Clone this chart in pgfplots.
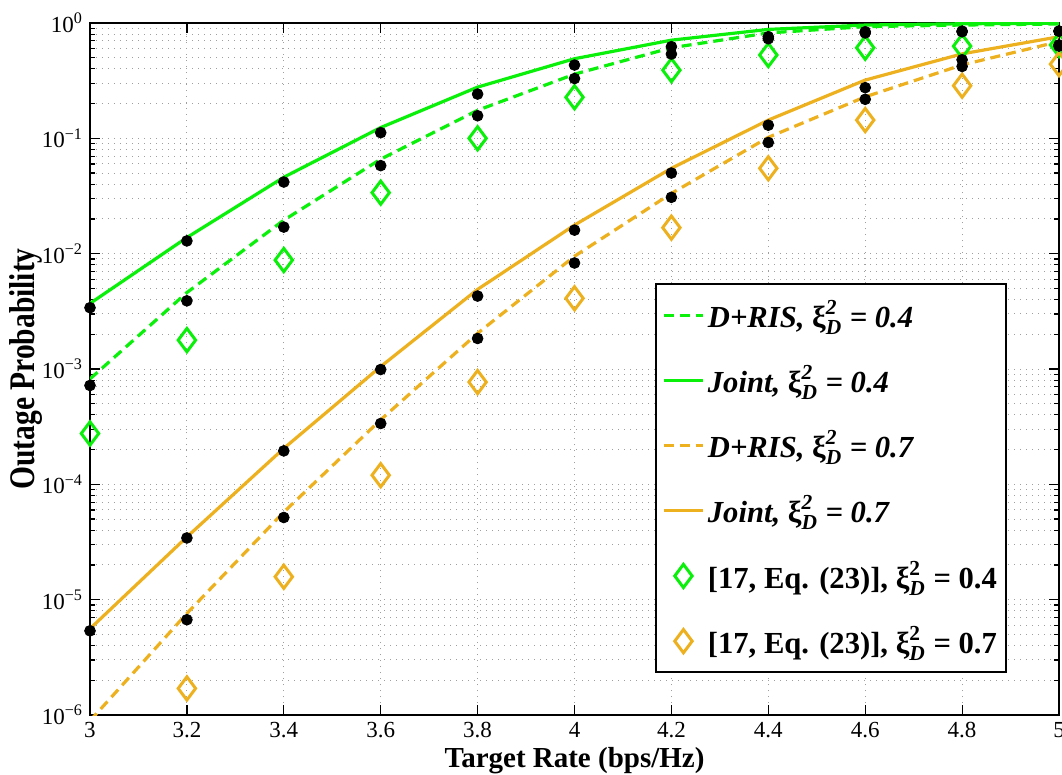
\documentclass[border=0pt]{standalone}
\usepackage{pgfplots}
\pgfplotsset{compat=1.18}
\usepackage{amsmath}
\usepackage{fontspec}
\setmainfont{Liberation Serif}

\definecolor{mgreen}{RGB}{10,240,10}
\definecolor{morange}{RGB}{237,177,32}

% xi_D^2 set in the text font
\newcommand{\xiD}{$\text{\upshape ξ}^{\text{2}}_{\text{\itshape D}}$}

\pgfplotsset{
    lineleg/.style={legend image code/.code={\draw[##1] (0cm,0cm) -- (0.7cm,0cm);}},
    diamleg/.style={legend image code/.code={\draw[##1] plot coordinates {(0.35cm,0cm)};}},
}

\begin{document}
\begin{tikzpicture}
\begin{axis}[
    scale only axis,
    width=484.5pt, height=346pt,
    ymode=log,
    xmin=3, xmax=5, ymin=1e-6, ymax=1,
    xtick={3,3.2,3.4,3.6,3.8,4,4.2,4.4,4.6,4.8,5},
    xticklabels={3,3.2,3.4,3.6,3.8,4,4.2,4.4,4.6,4.8,5},
    ytick={1e-6,1e-5,1e-4,1e-3,1e-2,1e-1,1},
    yticklabels={10\textsuperscript{−6},10\textsuperscript{−5},10\textsuperscript{−4},10\textsuperscript{−3},10\textsuperscript{−2},10\textsuperscript{−1},10\textsuperscript{0}},
    minor ytick={2e-6,3e-6,4e-6,5e-6,6e-6,7e-6,8e-6,9e-6,
                 2e-5,3e-5,4e-5,5e-5,6e-5,7e-5,8e-5,9e-5,
                 2e-4,3e-4,4e-4,5e-4,6e-4,7e-4,8e-4,9e-4,
                 2e-3,3e-3,4e-3,5e-3,6e-3,7e-3,8e-3,9e-3,
                 2e-2,3e-2,4e-2,5e-2,6e-2,7e-2,8e-2,9e-2,
                 0.2,0.3,0.4,0.5,0.6,0.7,0.8,0.9},
    tick label style={font=\fontsize{11.5}{13}\selectfont},
    xtick pos=both, ytick pos=both,
    tick align=inside,
    major tick length=5pt, minor tick length=2.5pt,
    tick style={black, line width=0.6pt},
    axis line style={line width=0.8pt},
    grid=both,
    major grid style={dash pattern=on 0.6pt off 2.4pt, gray!75, line width=0.5pt},
    minor grid style={dash pattern=on 0.6pt off 2.4pt, gray!75, line width=0.5pt},
    xlabel={\bfseries Target Rate (bps/Hz)},
    ylabel={\scalebox{0.82}[1]{\bfseries Outage Probability}},
    xlabel style={font=\fontsize{14.5}{16}\selectfont, yshift=2pt},
    ylabel style={font=\fontsize{18}{20}\selectfont, yshift=-7pt},
    legend style={at={(0.946,0.624)}, anchor=north east,
        font=\fontsize{15.3}{17}\selectfont\bfseries,
        draw=black, line width=0.8pt, row sep=13.5pt,
        inner xsep=3pt, inner ysep=6pt,
        nodes={inner xsep=1.5pt},
        cells={anchor=west}},
    clip marker paths=false,
]
% analytical curves
\addplot[mgreen, line width=1.6pt, dash pattern=on 5pt off 3pt, lineleg] coordinates {
    (3.0,8.2e-4) (3.2,4.6e-3) (3.4,1.95e-2) (3.6,6.6e-2) (3.8,0.175) (4.0,0.36)
    (4.2,0.61) (4.4,0.82) (4.6,0.93) (4.8,0.96) (5.0,0.98)};
\addlegendentry{\itshape D+RIS, \xiD\ = 0.4}
\addplot[mgreen, line width=1.6pt, lineleg] coordinates {
    (3.0,3.7e-3) (3.2,1.38e-2) (3.4,4.6e-2) (3.6,0.124) (3.8,0.278) (4.0,0.49)
    (4.2,0.71) (4.4,0.88) (4.6,0.96) (4.8,0.985) (5.0,0.995)};
\addlegendentry{\itshape Joint, \xiD\ = 0.4}
\addplot[morange, line width=1.6pt, dash pattern=on 5pt off 3pt, lineleg] coordinates {
    (3.0,8.9e-7) (3.2,7.6e-6) (3.4,5.75e-5) (3.6,3.63e-4) (3.8,2.04e-3) (4.0,9.5e-3)
    (4.2,3.33e-2) (4.4,0.102) (4.6,0.229) (4.8,0.433) (5.0,0.69)};
\addlegendentry{\itshape D+RIS, \xiD\ = 0.7}
\addplot[morange, line width=1.6pt, lineleg] coordinates {
    (3.0,5.6e-6) (3.2,3.5e-5) (3.4,2.05e-4) (3.6,1.05e-3) (3.8,4.9e-3) (4.0,1.77e-2)
    (4.2,5.5e-2) (4.4,0.144) (4.6,0.32) (4.8,0.54) (5.0,0.76)};
\addlegendentry{\itshape Joint, \xiD\ = 0.7}
% approximation of [17]
\addplot[only marks, mgreen, mark=diamond, mark size=5.8pt, line width=1.5pt, diamleg] coordinates {
    (3.0,2.76e-4) (3.2,1.78e-3) (3.4,8.8e-3) (3.6,3.38e-2) (3.8,0.1) (4.0,0.227)
    (4.2,0.39) (4.4,0.528) (4.6,0.61) (4.8,0.63) (5.0,0.645)};
\addlegendentry{[17, Eq. (23)], \xiD\ = 0.4}
\addplot[only marks, morange, mark=diamond, mark size=5.8pt, line width=1.5pt, diamleg] coordinates {
    (3.2,1.7e-6) (3.4,1.58e-5) (3.6,1.2e-4) (3.8,7.7e-4) (4.0,4.1e-3)
    (4.2,1.68e-2) (4.4,5.5e-2) (4.6,0.144) (4.8,0.286) (5.0,0.44)};
\addlegendentry{[17, Eq. (23)], \xiD\ = 0.7}
% simulation points
\addplot[only marks, black, mark=*, mark size=2.7pt, forget plot] coordinates {
    (3.0,3.4e-3) (3.2,1.29e-2) (3.4,4.18e-2) (3.6,0.112) (3.8,0.242) (4.0,0.432)
    (4.2,0.623) (4.4,0.76) (4.6,0.84) (4.8,0.85) (5.0,0.85)};
\addplot[only marks, black, mark=*, mark size=2.7pt, forget plot] coordinates {
    (3.0,7.2e-4) (3.2,3.9e-3) (3.4,1.7e-2) (3.6,5.8e-2) (3.8,0.157) (4.0,0.33)
    (4.2,0.538) (4.4,0.73) (4.6,0.82) (4.8,0.84) (5.0,0.85)};
\addplot[only marks, black, mark=*, mark size=2.7pt, forget plot] coordinates {
    (3.0,5.37e-6) (3.2,3.43e-5) (3.4,1.95e-4) (3.6,9.9e-4) (3.8,4.29e-3) (4.0,1.6e-2)
    (4.2,5.0e-2) (4.4,0.13) (4.6,0.275) (4.8,0.48) (5.0,0.645)};
\addplot[only marks, black, mark=*, mark size=2.7pt, forget plot] coordinates {
    (3.2,6.7e-6) (3.4,5.16e-5) (3.6,3.37e-4) (3.8,1.84e-3) (4.0,8.3e-3)
    (4.2,3.08e-2) (4.4,9.2e-2) (4.6,0.218) (4.8,0.42) (5.0,0.63)};
\end{axis}
\pgfresetboundingbox
\path ([shift={(-45pt,-29.5pt)}]current axis.south west) rectangle ([shift={(1.5pt,11.5pt)}]current axis.north east);
\end{tikzpicture}
\end{document}
